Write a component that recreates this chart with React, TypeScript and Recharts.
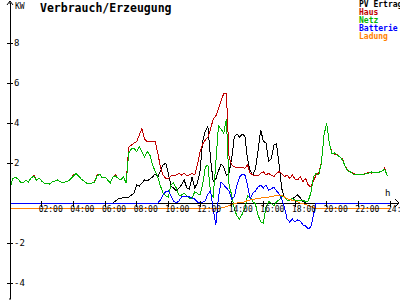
import { LineChart, Line, XAxis, YAxis, ReferenceLine } from 'recharts';

// 10-minute samples, index i -> hour i/6
const STEP_MIN = 10;

const haus = [
  0.73, 1.2, 1.3, 1.2, 1.05, 1.0, 1.15, 1.05, 1.25, 1.4,
  1.15, 1.25, 1.1, 1.0, 1.0, 0.95, 1.05, 1.1, 1.15, 1.07,
  1.0, 1.05, 1.1, 1.2, 1.4, 1.48, 1.35, 1.2, 1.1, 1.0,
  0.95, 1.0, 1.05, 1.4, 1.45, 1.25, 1.3, 1.15, 1.0, 1.3,
  1.4, 1.23, 1.15, 1.3, 1.0, 2.8, 2.9, 3.0, 3.07, 3.4,
  3.73, 3.2, 3.07, 3.07, 3.07, 3.07, 2.5, 1.8, 1.4, 1.23,
  1.23, 1.35, 1.4, 1.4, 1.48, 1.4, 1.48, 1.35, 1.4, 1.48,
  1.4, 1.9, 2.57, 2.95, 3.15, 3.3, 3.7, 4.2, 4.35, 4.7,
  5.1, 5.48, 5.48, 2.3, 1.9, 1.82, 1.75, 1.78, 1.8, 1.73,
  1.9, 1.5, 1.4, 1.4, 1.35, 1.48, 1.57, 1.4, 1.48, 1.4,
  1.32, 1.48, 1.57, 1.45, 1.32, 1.4, 1.23, 1.4, 1.2, 1.15,
  1.32, 1.07, 1.23, 0.9, 0.8, 1.1, 1.4, 1.5, 2.0, 3.4,
  4.0, 3.0, 2.5, 2.45, 2.45, 2.3, 2.2, 1.85, 1.65, 1.55,
  1.5, 1.42, 1.45, 1.4, 1.45, 1.48, 1.55, 1.5, 1.55, 1.5,
  1.57, 1.6, 1.75, 1.35, null,
];

const netz = [
  0.73, 1.2, 1.3, 1.2, 1.05, 1.0, 1.15, 1.05, 1.25, 1.35,
  1.15, 1.25, 1.1, 1.0, 1.0, 0.95, 1.05, 1.1, 1.15, 1.07,
  1.0, 1.05, 1.1, 1.2, 1.35, 1.48, 1.35, 1.2, 1.1, 1.0,
  0.95, 1.0, 1.05, 1.35, 1.45, 1.25, 1.3, 1.15, 1.0, 1.3,
  1.35, 1.23, 1.15, 1.3, 1.0, 2.5, 2.7, 2.73, 2.57, 2.8,
  2.57, 2.3, 2.57, 2.4, 1.9, 1.6, 1.3, 0.85, 0.5, 0.35,
  0.3, 0.9, 1.0, 0.75, 0.4, 0.4, 0.48, 0.35, 0.25, 0.23,
  0.57, 0.48, 0.4, 0.9, 1.8, 1.9, 0.5, 0.3, 2.0, 3.85,
  3.7, 3.5, 4.2, 0.9, 0.4, -0.3, -0.65, -0.8, -0.55, -0.27,
  0.35, 0.3, 0.07, -0.05, -0.6, -0.95, -1.0, -0.2, 0.07, 0.0,
  -0.15, 0.07, 0.15, 0.35, 0.35, 0.15, 0.15, 0.23, 0.15, 0.15,
  0.15, 0.15, 0.07, 0.1, 0.5, 1.3, 1.48, 1.4, 2.0, 3.4,
  4.0, 3.0, 2.45, 2.5, 2.4, 2.3, 2.15, 1.85, 1.6, 1.55,
  1.45, 1.45, 1.4, 1.45, 1.4, 1.5, 1.5, 1.55, 1.5, 1.55,
  1.55, 1.6, 1.7, 1.35, null,
];

const pvErtrag = [
  0, 0, 0, 0, 0, 0, 0, 0, 0, 0,
  0, 0, 0, 0, 0, 0, 0, 0, 0, 0,
  0, 0, 0, 0, 0, 0, 0, 0, 0, 0,
  0, 0, 0, 0, 0, 0, 0, 0, 0, 0,
  0.1, 0.2, 0.23, 0.27, 0.3, 0.3, 0.4, 0.5, 0.9, 0.85,
  1.0, 1.15, 1.1, 1.2, 1.3, 1.45, 1.3, 1.6, 1.9, 2.0,
  1.48, 0.85, 0.75, 0.6, 0.75, 0.9, 1.15, 0.75, 0.7, 1.3,
  0.75, 1.0, 1.57, 3.1, 3.6, 3.82, 2.2, 1.07, 1.2, 1.6,
  1.95, 1.8, 1.4, 1.5, 2.23, 3.3, 3.45, 3.3, 3.45, 3.35,
  2.2, 1.6, 1.4, 1.7, 2.6, 3.65, 3.1, 3.0, 2.1, 2.2,
  2.9, 2.95, 1.9, 0.7, 0.3, 0.15, 0.15, 0.2, 0.3, 0.4,
  0.25, 0.07, 0, 0, 0, 0, 0, 0, 0, 0,
  0, 0, 0, 0, 0, 0, 0, 0, 0, 0,
  0, 0, 0, 0, 0, 0, 0, 0, 0, 0,
  0, 0, 0, 0, null,
];

const batterie = [
  0, 0, 0, 0, 0, 0, 0, 0, 0, 0,
  0, 0, 0, 0, 0, 0, 0, 0, 0, 0,
  0, 0, 0, 0, 0, 0, 0, 0, 0, 0,
  0, 0, 0, 0, 0, 0, 0, 0, 0, 0,
  0, 0, 0, 0, 0, 0, 0, 0, 0, 0,
  0, 0, 0, 0, 0, 0, 0, 0.15, 0.4, 0.57,
  0.6, 0.35, 0.1, 0, 0.1, 0.3, 0.35, 0.35, 0.3, 0.25,
  0.2, 0.05, 0, 0.05, 0.1, 0.45, 0.6, -0.3, -1.1, 0.3,
  1.05, 0.9, 0.75, 0.6, 0.2, 0.3, 0.9, 1.3, 1.45, 1.4,
  0.9, 0.2, 0.5, 0.6, 0.8, 0.9, 0.75, 0.9, 0.65, 0.7,
  0.8, 0.6, 0.45, 0.2, -0.2, -0.8, -0.95, -0.8, -0.95, -0.85,
  -0.9, -1.1, -1.15, -1.3, -1.2, -0.6, 0, 0, 0, 0,
  0, 0, 0, 0, 0, 0, 0, 0, 0, 0,
  0, 0, 0, 0, 0, 0, 0, 0, 0, 0,
  0, 0, 0, 0, 0,
];

const ladung = [
  -0.27, -0.27, -0.27, -0.27, -0.27, -0.27, -0.27, -0.27, -0.27, -0.27,
  -0.27, -0.27, -0.27, -0.27, -0.27, -0.27, -0.27, -0.27, -0.27, -0.27,
  -0.27, -0.27, -0.27, -0.27, -0.27, -0.27, -0.27, -0.27, -0.27, -0.27,
  -0.27, -0.27, -0.27, -0.27, -0.27, -0.27, -0.27, -0.27, -0.27, -0.27,
  -0.27, -0.27, -0.27, -0.27, -0.27, -0.27, -0.27, -0.27, -0.27, -0.27,
  -0.27, -0.27, -0.27, -0.27, -0.27, -0.27, -0.27, -0.27, -0.27, -0.27,
  -0.27, -0.27, -0.27, -0.27, -0.27, -0.27, -0.27, -0.27, -0.27, -0.27,
  -0.27, -0.27, -0.27, -0.27, -0.27, -0.27, -0.27, -0.27, -0.27, -0.27,
  -0.25, -0.22, -0.18, -0.12, -0.07, -0.03, 0, 0.02, 0.03, 0.06,
  0.12, 0.15, 0.17, 0.2, 0.22, 0.25, 0.27, 0.28, 0.3, 0.33,
  0.35, 0.38, 0.4, 0.4, 0.3, 0.22, 0.17, 0.14, 0.1, 0.05,
  0, -0.04, -0.08, -0.13, -0.17, -0.22, -0.27, -0.27, -0.27, -0.27,
  -0.27, -0.27, -0.27, -0.27, -0.27, -0.27, -0.27, -0.27, -0.27, -0.27,
  -0.27, -0.27, -0.27, -0.27, -0.27, -0.27, -0.27, -0.27, -0.27, -0.27,
  -0.27, -0.27, -0.27, -0.27, -0.27,
];

const hourTicks = [2, 4, 6, 8, 10, 12, 14, 16, 18, 20, 22, 24];
const hourLabels = ['02:00', '04:00', '06:00', '08:00', '10:00', '12:00', '14:00', '16:00', '18:00', '20:00', '22:00', '24:00'];
const kwTicks = [-4, -2, 2, 4, 6, 8];

const series = [
  { key: 'pv', name: 'PV Ertrag', color: '#000000' },
  { key: 'haus', name: 'Haus', color: '#c00000' },
  { key: 'netz', name: 'Netz', color: '#00b400' },
  { key: 'batt', name: 'Batterie', color: '#0000ff' },
  { key: 'ladung', name: 'Ladung', color: '#ff8000' },
];

const data = ladung.map((_, i) => ({
  h: (i * STEP_MIN) / 60,
  pv: pvErtrag[i],
  haus: haus[i],
  netz: netz[i],
  batt: batterie[i],
  ladung: ladung[i],
}));

const W = 400;
const H = 300;
const FONT = '"DejaVu Sans Mono", monospace';
const Y_MIN = -4.8;
const Y_MAX = 10;
const X_MAX = 24.568; // axis runs past 24h to the arrow
const AXIS_X = 10; // y-axis width == position of the axis line
const X_AXIS_H = 1;
const MARGIN = { top: 3, right: 1, bottom: 0, left: 0 };
const PLOT_H = H - MARGIN.top - MARGIN.bottom - X_AXIS_H;
const ZERO_Y = MARGIN.top + (Y_MAX / (Y_MAX - Y_MIN)) * PLOT_H;

function HourTick({ x, index }: any) {
  return (
    <g>
      <line x1={x} x2={x} y1={ZERO_Y - 2} y2={ZERO_Y + 4} stroke="#000" shapeRendering="crispEdges" />
      <text x={x - 3} y={ZERO_Y + 9} fontSize={8} fontFamily={FONT} fill="#000">
        {hourLabels[index]}
      </text>
    </g>
  );
}

function KwTick({ y, payload }: any) {
  return (
    <g>
      <line x1={AXIS_X - 3} x2={AXIS_X + 3} y1={y} y2={y} stroke="#000" shapeRendering="crispEdges" />
      <text x={AXIS_X + 4} y={y + 3} fontSize={9} fontFamily={FONT} fill="#000">
        {payload.value}
      </text>
    </g>
  );
}

export default function App() {
  return (
    <div style={{ position: 'absolute', left: 0, top: 0, width: W, height: H, background: '#fff' }}>
      <LineChart width={W} height={H} data={data} margin={MARGIN}>
        <XAxis
          dataKey="h"
          type="number"
          domain={[0, X_MAX]}
          ticks={hourTicks}
          interval={0}
          height={X_AXIS_H}
          axisLine={false}
          tickLine={false}
          tick={(p: any) => <HourTick {...p} />}
          allowDataOverflow
        />
        <YAxis
          type="number"
          domain={[Y_MIN, Y_MAX]}
          ticks={kwTicks}
          interval={0}
          width={AXIS_X}
          axisLine={{ stroke: '#000', shapeRendering: 'crispEdges' }}
          tickLine={false}
          tick={(p: any) => <KwTick {...p} />}
          allowDataOverflow
        />
        <ReferenceLine y={0} stroke="#000" shapeRendering="crispEdges" />
        {series.map((s) => (
          <Line
            key={s.key}
            dataKey={s.key}
            stroke={s.color}
            strokeWidth={1}
            dot={false}
            type="linear"
            isAnimationActive={false}
            shapeRendering="crispEdges"
          />
        ))}
      </LineChart>
      <svg
        width={W}
        height={H}
        style={{ position: 'absolute', left: 0, top: 0, pointerEvents: 'none' }}
      >
        {/* axis arrows */}
        <polyline points="7,5 10,1 13,5" fill="none" stroke="#000" />
        <line x1={10} x2={10} y1={1} y2={4} stroke="#000" />
        <line x1={10} x2={10} y1={H - 2} y2={H} stroke="#000" />
        <polyline points={`395,${ZERO_Y - 4} 399,${ZERO_Y} 395,${ZERO_Y + 4}`} fill="none" stroke="#000" />
        <text x={15} y={9} fontSize={8} fontFamily={FONT} fill="#000">KW</text>
        <text x={385} y={ZERO_Y - 7} fontSize={9} fontFamily={FONT} fill="#000">h</text>
        <text x={40} y={12} fontSize={11.5} fontWeight="bold" fontFamily={FONT} fill="#000">
          Verbrauch/Erzeugung
        </text>
        {series.map((s, i) => (
          <text key={s.key} x={359} y={7 + i * 8} fontSize={8} fontWeight="bold" fontFamily={FONT} fill={s.color}>
            {s.name}
          </text>
        ))}
      </svg>
    </div>
  );
}
